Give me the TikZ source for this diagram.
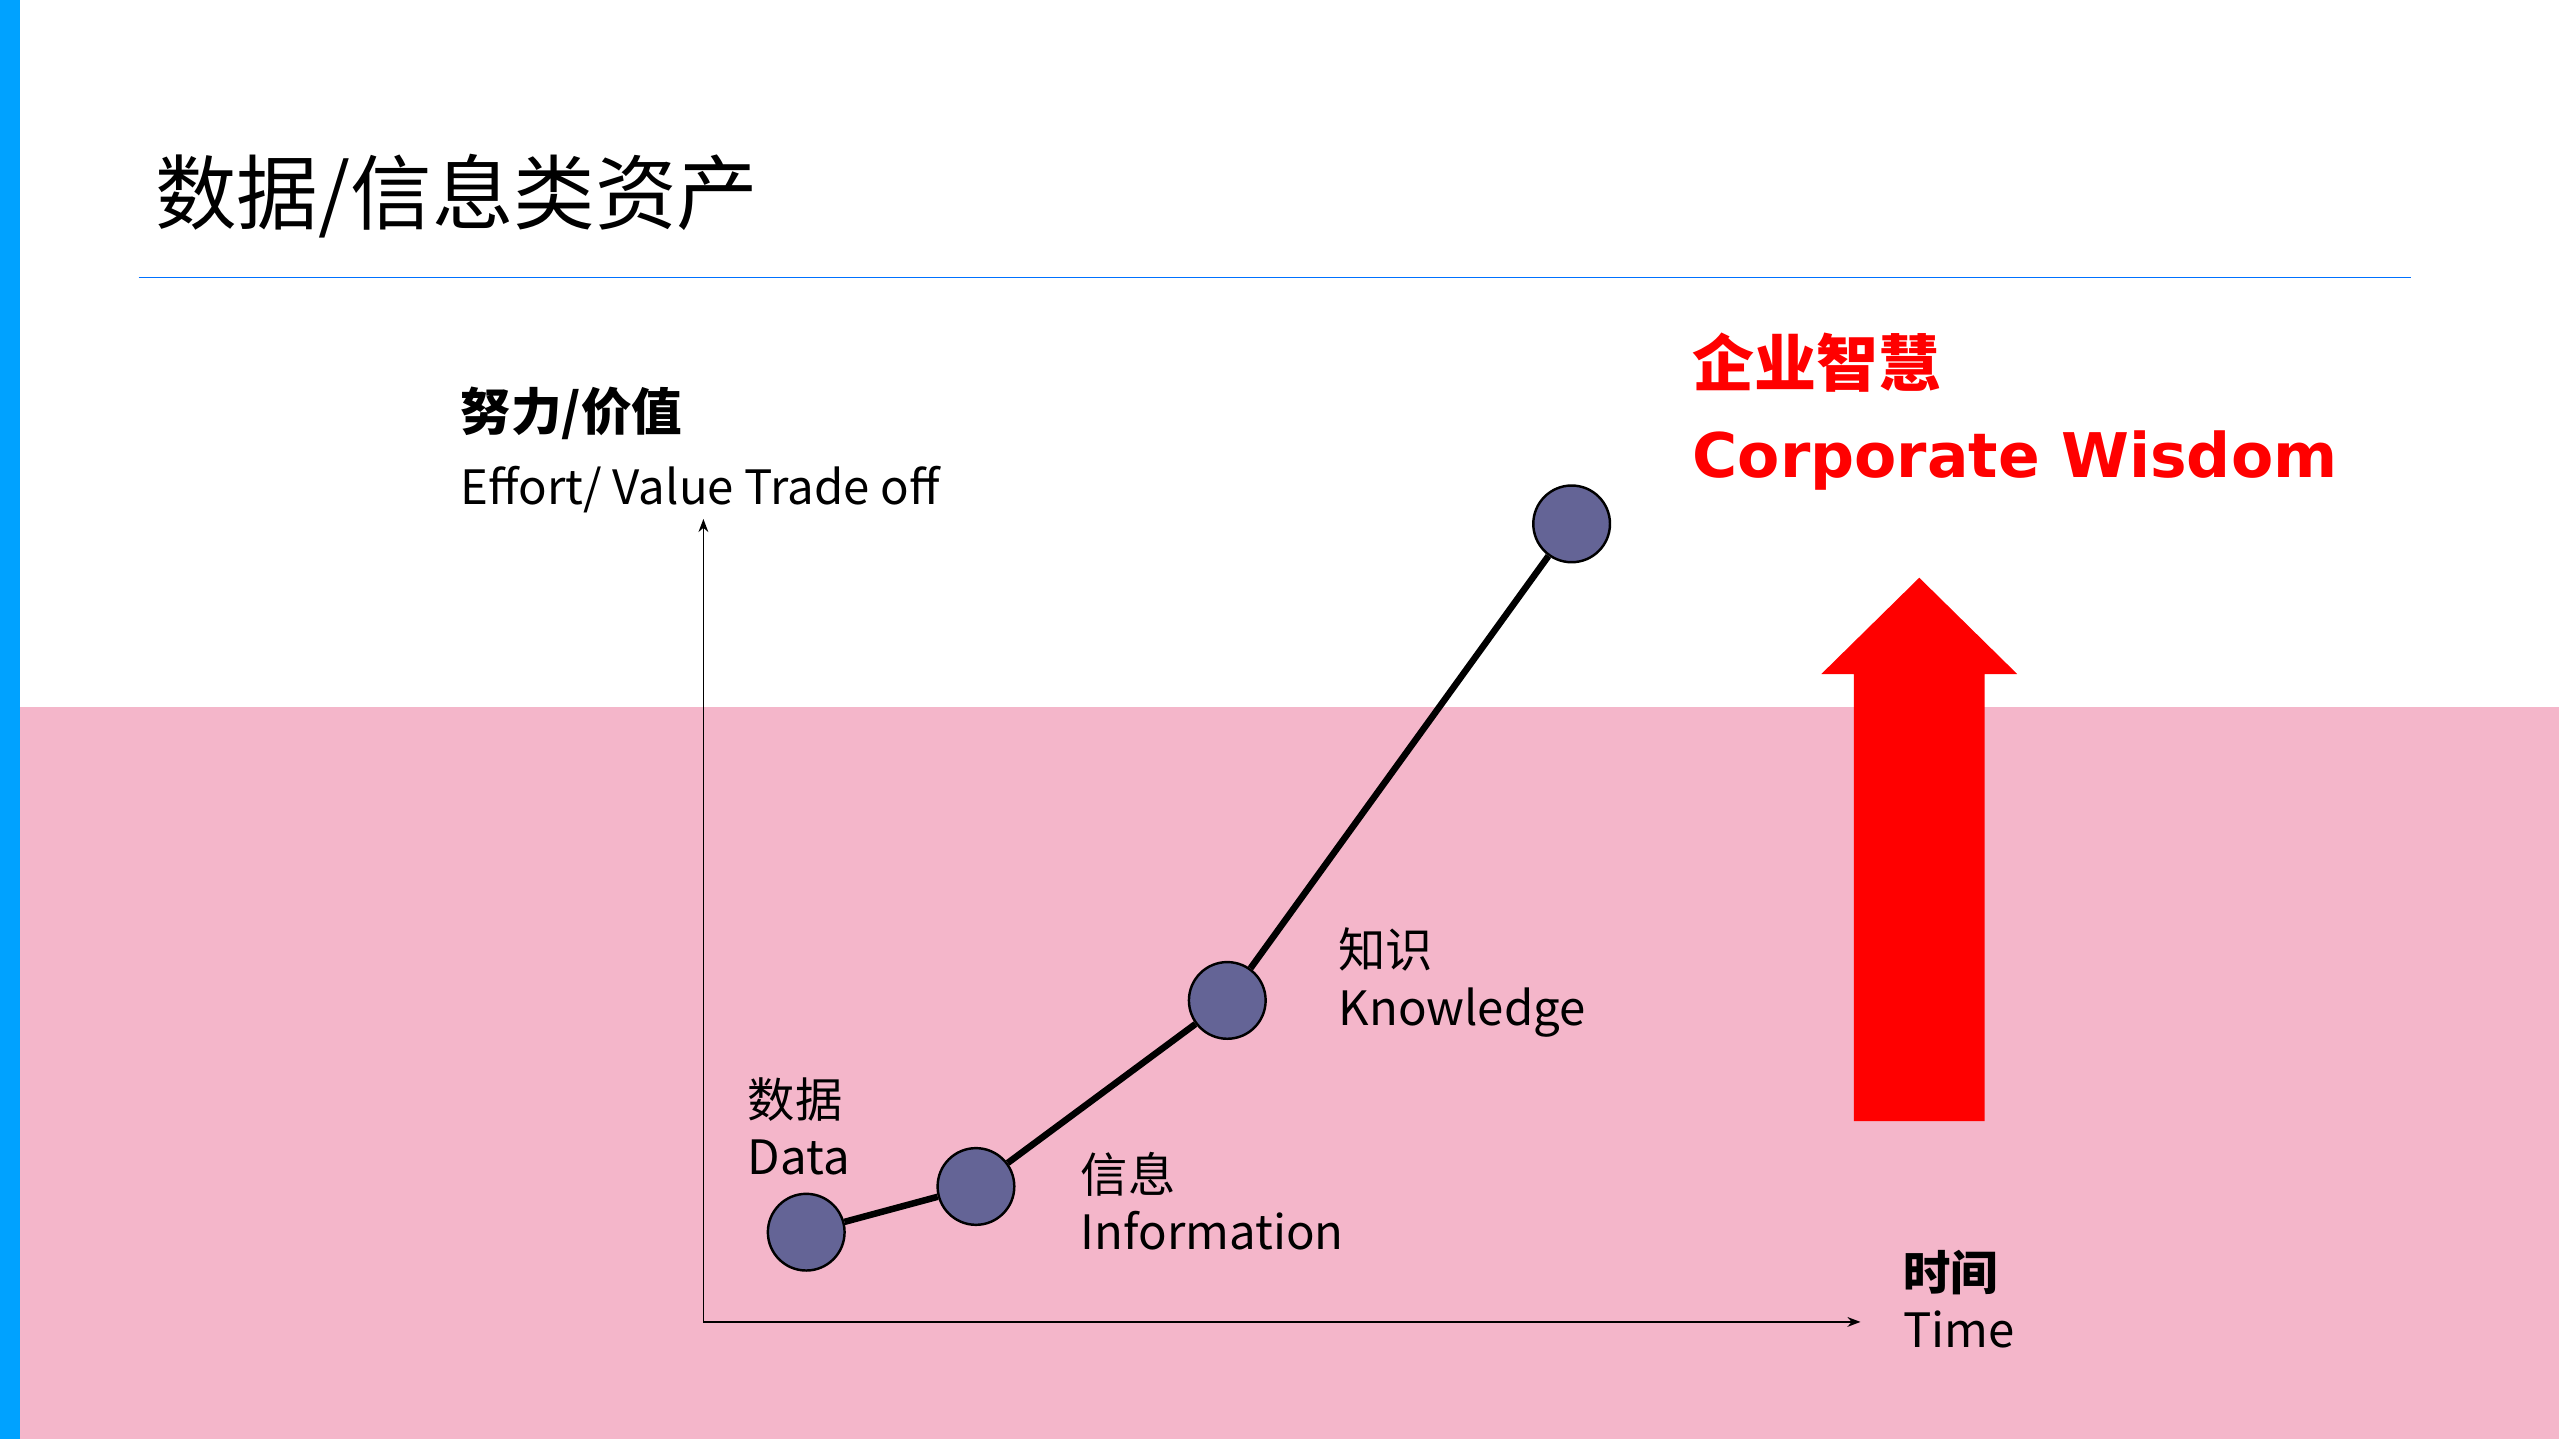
\documentclass[tikz,border=0pt]{standalone}
\usepackage{fontspec}
\usetikzlibrary{arrows.meta}
\setmainfont{Noto Sans CJK SC}
\newfontfamily\heavy{DejaVu Sans}[BoldFont={DejaVu Sans Bold}]
\definecolor{pinkbg}{HTML}{F4B6CA}
\definecolor{bluebar}{HTML}{00A2FF}
\definecolor{dotc}{HTML}{646496}
\begin{document}
\begin{tikzpicture}[x=1pt,y=-1pt,
  dot/.style={circle,draw=black,line width=1.5pt,fill=dotc,minimum size=47pt,inner sep=0pt},
  lbl/.style={anchor=west,font=\fontsize{29}{34}\selectfont,inner sep=0pt,align=left},
  axis/.style={-{Stealth[length=8pt,width=6pt]},line width=1pt}]
\useasboundingbox (0,0) rectangle (1568,882);
\fill[white] (0,0) rectangle (1568,882);
\fill[pinkbg] (10,433) rectangle (1568,882);
\fill[bluebar] (0,0) rectangle (12,882);
\node[anchor=base west,inner sep=0pt,font=\fontsize{50}{56}\selectfont] (title) at (95,137) {数据/信息类资产};
\draw[bluebar!70!blue,line width=1pt] (85,170) -- (1477,170);
\node[lbl,font=\bfseries\fontsize{31}{36}\selectfont] (yl1) at (282,253) {努力/价值};
\node[lbl] (yl2) at (282,300) {Effort/ Value Trade off};
\coordinate (o) at (431,810);
\coordinate (yt) at (431,318);
\coordinate (xt) at (1140,810);
\draw[axis] (o) -- (yt);
\draw[axis] (o) -- (xt);
\node[dot] (d) at (494,755) {};
\node[dot] (i) at (598,727) {};
\node[dot] (k) at (752,613) {};
\node[dot] (w) at (963,321) {};
\draw[line width=4pt] (d) -- (i) -- (k) -- (w);
\node[lbl,font=\fontsize{29}{35}\selectfont] (dl) at (458,690) {数据\\Data};
\node[lbl,font=\fontsize{29}{35}\selectfont] (il) at (662,736) {信息\\Information};
\node[lbl,font=\fontsize{29}{35}\selectfont] (kl) at (820,602) {知识\\Knowledge};
\node[lbl,font=\fontsize{29}{35}\selectfont] (tl) at (1166,796) {\textbf{时间}\\Time};
\node[lbl,text=red,font=\bfseries\fontsize{38}{44}\selectfont] (wz1) at (1037,222) {企业智慧};
\node[lbl,text=red] (wz2) at (1037,282) {\resizebox{395pt}{!}{\heavy\bfseries Corporate Wisdom}};
\fill[red] (1136,687) -- (1136,413) -- (1116,413) -- (1176,354) -- (1236,413) -- (1216,413) -- (1216,687) -- cycle;
\end{tikzpicture}
\end{document}
